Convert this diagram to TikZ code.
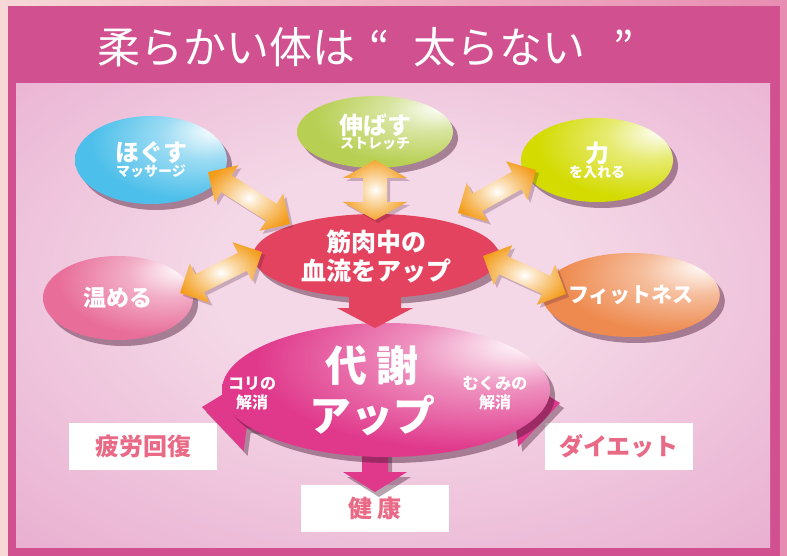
\documentclass[tikz,border=0pt]{standalone}
\usepackage{fontspec}
\newfontfamily\jp{Noto Sans CJK JP}
\usetikzlibrary{shapes.geometric,shadows,calc}

\definecolor{bgleft}{HTML}{F7D8D6}
\definecolor{bgright}{HTML}{E88DB2}
\definecolor{framepink}{HTML}{D1508F}
\definecolor{innerhi}{HTML}{F4D8E7}
\definecolor{innermid}{HTML}{E6A3CA}
\definecolor{innerlo}{HTML}{D66AA3}
\definecolor{blueb}{HTML}{4CBFEA}
\definecolor{greenb}{HTML}{B7CF52}
\definecolor{yellowb}{HTML}{D3DB00}
\definecolor{pinkb}{HTML}{E86D99}
\definecolor{orangeb}{HTML}{EE8A4F}
\definecolor{redb}{HTML}{E4435F}
\definecolor{magb}{HTML}{E0388B}
\definecolor{arrorange}{HTML}{F39C1A}
\definecolor{boxtext}{HTML}{E96A86}
\definecolor{shadowcol}{HTML}{4A1A35}
\colorlet{glosscol}{blueb}

\pgfdeclareradialshading{innerglow}{\pgfpoint{0bp}{5bp}}{color(0bp)=(innerhi); color(12bp)=(innerhi); color(45bp)=(innermid); color(75bp)=(innerlo)}
\pgfdeclareradialshading[glosscol]{glossy}{\pgfpoint{22bp}{18bp}}{color(0bp)=(white); color(4bp)=(glosscol!15!white); color(14bp)=(glosscol!55!white); color(32bp)=(glosscol); color(70bp)=(glosscol)}
\pgfdeclareradialshading{arrowglow}{\pgfpoint{0bp}{0bp}}{color(0bp)=(white); color(6bp)=(arrorange!25!white); color(28bp)=(arrorange); color(60bp)=(arrorange)}

\pgfdeclarelayer{bgl}
\pgfdeclarelayer{arrl}
\pgfsetlayers{bgl,arrl,main}

\newcommand{\bigjp}{\fontsize{24}{28}\selectfont}
\newcommand{\smalljp}{\fontsize{14}{17}\selectfont}

% style, from, to, shaft half width, head half width, head length
\newcommand{\dblarrow}[6]{%
  \path[#1] let \p1=(#2), \p2=(#3), \n1={atan2(\y2-\y1,\x2-\x1)}, \n2={veclen(\x2-\x1,\y2-\y1)} in
    [shift={(\p1)}, rotate=\n1]
    (0pt,0pt) -- (#6pt,#5pt) -- (#6pt,#4pt) -- (\n2-#6pt,#4pt) -- (\n2-#6pt,#5pt) -- (\n2,0pt)
    -- (\n2-#6pt,-#5pt) -- (\n2-#6pt,-#4pt) -- (#6pt,-#4pt) -- (#6pt,-#5pt) -- cycle;}
\newcommand{\sglarrow}[6]{%
  \path[#1] let \p1=(#2), \p2=(#3), \n1={atan2(\y2-\y1,\x2-\x1)}, \n2={veclen(\x2-\x1,\y2-\y1)} in
    [shift={(\p1)}, rotate=\n1]
    (0pt,-#4pt) -- (\n2-#6pt,-#4pt) -- (\n2-#6pt,-#5pt) -- (\n2,0pt)
    -- (\n2-#6pt,#5pt) -- (\n2-#6pt,#4pt) -- (0pt,#4pt) -- cycle;}

\tikzset{
  bubble/.style={ellipse, inner sep=0pt, text=white, font=\jp\bfseries, align=center,
    /utils/exec={\colorlet{glosscol}{#1}}, shading=glossy,
    drop shadow={shadow xshift=5pt, shadow yshift=-6pt, opacity=.45, fill=shadowcol}},
  resultbox/.style={fill=white, minimum width=148pt, minimum height=47pt, inner sep=0pt,
    text=boxtext, font=\jp\bfseries\fontsize{24}{28}\selectfont},
  hotarrow/.style={shading=arrowglow,
    drop shadow={shadow xshift=3pt, shadow yshift=-3pt, opacity=.25, fill=shadowcol}},
  redarrow/.style={fill=redb},
  magarrow/.style={fill=magb,
    drop shadow={shadow xshift=4pt, shadow yshift=-5pt, opacity=.4, fill=shadowcol}},
  sidelabel/.style={text=white, font=\jp\bfseries\fontsize{16}{19}\selectfont, align=center, inner sep=0pt}
}

\begin{document}
\begin{tikzpicture}[x=1pt,y=-1pt,line join=round]
\useasboundingbox (0,0) rectangle (787,556);

\begin{pgfonlayer}{bgl}
\shade[left color=bgleft, right color=bgright] (0,0) rectangle (787,556);
\fill[framepink] (8,6) rectangle (780,556);
\shade[shading=innerglow] (16,84) rectangle (770,547);
\node[resultbox] (hirou) at (143,446.5) {疲労回復};
\node[resultbox] (kenkou) at (375,508.5) {健 康};
\node[resultbox] (diet) at (619,446.5) {ダイエット};
\end{pgfonlayer}

\node[anchor=west, inner sep=0pt, text=white, font=\jp\fontsize{43}{46}\selectfont] (title) at (97,47)
  {柔らかい体は\hspace{14pt}“\hspace{24pt}太らない\hspace{28pt}”};

% bubbles
\node[bubble=blueb, minimum width=152pt, minimum height=88pt] (hogusu) at (151,160) {{\bigjp ほぐす}\\{\smalljp マッサージ}};
\node[bubble=greenb, minimum width=156pt, minimum height=72pt] (nobasu) at (375,132) {{\bigjp 伸ばす}\\{\smalljp ストレッチ}};
\node[bubble=yellowb, minimum width=152pt, minimum height=84pt] (chikara) at (597,160) {{\bigjp 力}\\{\smalljp を入れる}};
\node[bubble=pinkb, minimum width=150pt, minimum height=84pt, font=\jp\bfseries\fontsize{23}{26}\selectfont] (atatameru) at (118,298) {温める};
\node[bubble=orangeb, minimum width=152pt, minimum height=84pt, font=\jp\bfseries\fontsize{21}{24}\selectfont] (fitness) at (631,295) {フィットネス};
\node[ellipse, fill=redb, minimum width=246pt, minimum height=84pt, inner sep=0pt, text=white, align=center,
  font=\jp\bfseries\fontsize{25}{29}\selectfont,
  drop shadow={shadow xshift=5pt, shadow yshift=-6pt, opacity=.45, fill=shadowcol}] (blood) at (376,256) {筋肉中の\\血流をアップ};
\node[bubble=magb, minimum width=328pt, minimum height=134pt] (daisha) at (386,390) {};
\node[text=white, font=\jp\bfseries\fontsize{42}{50}\selectfont, align=center, inner sep=0pt] (daishatxt) at (372,391) {代 謝\\アップ};
\node[sidelabel] (kori) at (252,393) {コリの\\解消};
\node[sidelabel] (mukumi) at (495,393) {むくみの\\解消};

% magenta arrows under the bubble
\begin{pgfonlayer}{arrl}
\sglarrow{magarrow}{[shift={(-11,40)}]daisha.center}{[shift={(0,-16.5)}]kenkou.center}{13}{32}{20}
\sglarrow{magarrow}{[shift={(-86,30)}]daisha.center}{[shift={(59,-39.5)}]hirou.center}{15}{38}{47}
\sglarrow{magarrow}{[shift={(74,26)}]daisha.center}{[shift={(-59,-43.5)}]diet.center}{15}{38}{47}
\end{pgfonlayer}

% orange double arrows
\dblarrow{hotarrow}{[shift={(57,12)}]hogusu.center}{[shift={(-86,-32)}]blood.center}{10}{22}{22}
\dblarrow{hotarrow}{[shift={(0,28)}]nobasu.center}{[shift={(-1,-36)}]blood.center}{12}{32}{18}
\dblarrow{hotarrow}{[shift={(-61,10)}]chikara.center}{[shift={(82,-43)}]blood.center}{10}{22}{22}
\dblarrow{hotarrow}{[shift={(62,-5)}]atatameru.center}{[shift={(-114,-4)}]blood.center}{10}{22}{22}
\dblarrow{hotarrow}{[shift={(-65,-1)}]fitness.center}{[shift={(107,0)}]blood.center}{10}{22}{22}

% red arrow
\sglarrow{redarrow}{[shift={(-1,36)}]blood.center}{[shift={(-11,-62)}]daisha.center}{26}{38}{20}
\end{tikzpicture}
\end{document}
